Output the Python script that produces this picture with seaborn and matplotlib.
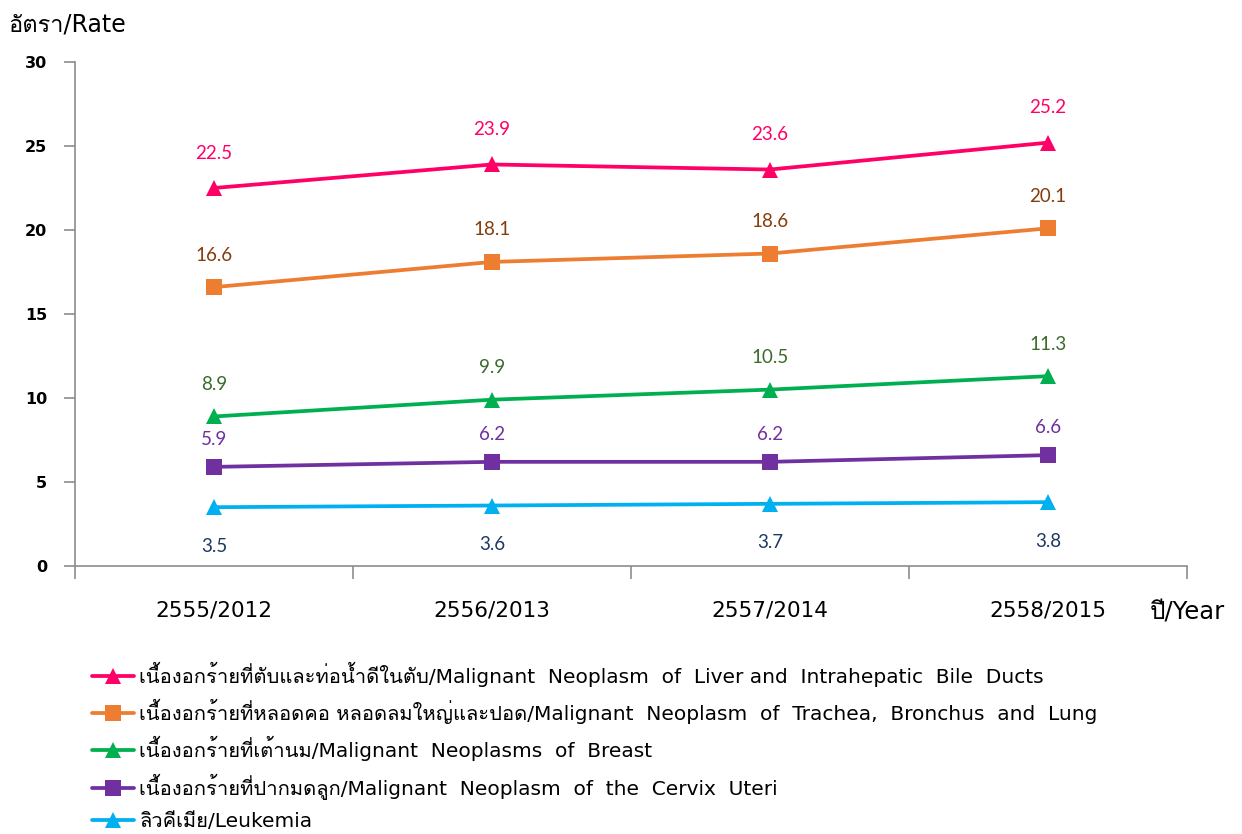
import numpy as np
import pandas as pd
import seaborn as sns
import matplotlib
matplotlib.use("Agg")
import matplotlib.pyplot as plt
from matplotlib import font_manager as fm
from matplotlib.lines import Line2D

# ---------------- data ----------------
years = ["2555/2012", "2556/2013", "2557/2014", "2558/2015"]
series_names = [
    "เนื้องอกร้ายที่ตับและท่อน้ำดีในตับ/Malignant  Neoplasm  of  Liver and  Intrahepatic  Bile  Ducts",
    "เนื้องอกร้ายที่หลอดคอ หลอดลมใหญ่และปอด/Malignant  Neoplasm  of  Trachea,  Bronchus  and  Lung",
    "เนื้องอกร้ายที่เต้านม/Malignant  Neoplasms  of  Breast",
    "เนื้องอกร้ายที่ปากมดลูก/Malignant  Neoplasm  of  the  Cervix  Uteri",
    "ลิวคีเมีย/Leukemia",
]
liver = [22.5, 23.9, 23.6, 25.2]
lung = [16.6, 18.1, 18.6, 20.1]
breast = [8.9, 9.9, 10.5, 11.3]
cervix = [5.9, 6.2, 6.2, 6.6]
leukemia = [3.5, 3.6, 3.7, 3.8]
all_values = [liver, lung, breast, cervix, leukemia]
y_ticks = [0, 5, 10, 15, 20, 25, 30]

line_colors = ["#FF0066", "#ED7D31", "#00B050", "#7030A0", "#00B0F0"]
label_colors = ["#FF0066", "#843C0C", "#3A6B2A", "#7030A0", "#1F3864"]
markers = ["^", "s", "^", "s", "^"]
label_offsets = [25, 23, 23, 20, -28]  # points

# ---------------- fonts ----------------
def find_thai_font():
    try:
        from fontTools.ttLib import TTFont
    except Exception:
        return None
    found = []
    for f in fm.fontManager.ttflist:
        try:
            tt = TTFont(f.fname, fontNumber=0, lazy=True)
            cmap = tt.getBestCmap()
            if cmap and 0x0E01 in cmap and 0x0E49 in cmap and 0x0E33 in cmap:
                found.append(f.name)
        except Exception:
            pass
    return found[0] if found else None

sns.set_theme(style="white")
thai = find_thai_font()
fam = ["DejaVu Sans"] + ([thai] if thai else [])
plt.rcParams["font.family"] = fam
plt.rcParams["text.color"] = "black"
plt.rcParams["xtick.color"] = "black"
plt.rcParams["ytick.color"] = "black"

# ---------------- frame ----------------
rows = []
for name, vals in zip(series_names, all_values):
    for i, (y, v) in enumerate(zip(years, vals)):
        rows.append({"series": name, "idx": i, "year": y, "value": v})
df = pd.DataFrame(rows)

fig = plt.figure(figsize=(12.42, 8.34), dpi=100)
ax = fig.add_axes([75 / 1242, 1 - 566 / 834, 1112 / 1242, 504 / 834])

sns.lineplot(
    data=df, x="idx", y="value", hue="series", style="series",
    hue_order=series_names, style_order=series_names,
    palette=dict(zip(series_names, line_colors)),
    markers=dict(zip(series_names, markers)), dashes=False,
    linewidth=2.7, markersize=11, markeredgewidth=0, ax=ax, legend=False,
)

for name, vals, lc, off in zip(series_names, all_values, label_colors, label_offsets):
    for i, v in enumerate(vals):
        ax.annotate(f"{v:.1f}", (i, v), xytext=(0, off), textcoords="offset points",
                    ha="center", va="center", color=lc, fontsize=13.5,
                    family=["Lato", "DejaVu Sans"])

ax.set_xlim(-0.5, len(years) - 0.5)
ax.set_ylim(y_ticks[0], y_ticks[-1])
ax.set_yticks(y_ticks)
ax.set_yticklabels([str(v) for v in y_ticks], fontsize=11.5, fontweight="bold")
ax.set_xticks(range(len(years)))
ax.set_xticklabels(years, fontsize=15.5)
ax.set_xticks(np.arange(-0.5, len(years), 1.0), minor=True)
ax.tick_params(axis="x", which="major", length=0, pad=25, labelcolor="black")
ax.tick_params(axis="x", which="minor", length=9, width=1.2, color="#8C8C8C", direction="out")
ax.tick_params(axis="y", length=8, width=1.2, color="#8C8C8C", direction="out", pad=12,
               labelcolor="black")
ax.tick_params(axis="y", left=True)
ax.tick_params(axis="x", bottom=True, which="both")
for s in ["top", "right"]:
    ax.spines[s].set_visible(False)
for s in ["left", "bottom"]:
    ax.spines[s].set_color("#8C8C8C")
    ax.spines[s].set_linewidth(1.2)
ax.set_xlabel("")
ax.set_ylabel("")
ax.grid(False)

fig.text(8 / 1242, 1 - 25 / 834, "อัตรา/Rate", fontsize=17, color="black",
         ha="left", va="center")
fig.text(1150 / 1242, 1 - 612 / 834, "ปี/Year", fontsize=17.5, color="black",
         ha="left", va="center")

handles = [Line2D([0], [0], color=c, lw=2.7, marker=m, markersize=11, markeredgewidth=0)
           for c, m in zip(line_colors, markers)]
leg = fig.legend(handles, series_names, loc="upper left",
                 bbox_to_anchor=(92 / 1242, 1 - 662 / 834), frameon=False,
                 fontsize=14.5, handlelength=2.1, handletextpad=0.25, labelspacing=0.6,
                 borderaxespad=0, borderpad=0, labelcolor="black")

fig.savefig("out.png", dpi=100)
